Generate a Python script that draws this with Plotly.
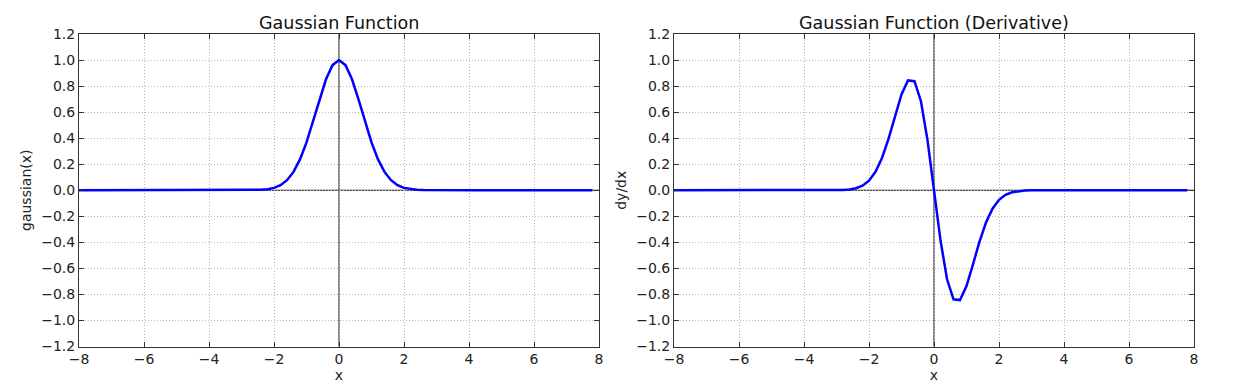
import plotly.graph_objects as go

# x samples (step 0.2 from -8.0 to 7.8)
x_vals = [
    -8.0, -7.8, -7.6, -7.4, -7.2, -7.0, -6.8, -6.6, -6.4, -6.2,
    -6.0, -5.8, -5.6, -5.4, -5.2, -5.0, -4.8, -4.6, -4.4, -4.2,
    -4.0, -3.8, -3.6, -3.4, -3.2, -3.0, -2.8, -2.6, -2.4, -2.2,
    -2.0, -1.8, -1.6, -1.4, -1.2, -1.0, -0.8, -0.6, -0.4, -0.2,
    0.0, 0.2, 0.4, 0.6, 0.8, 1.0, 1.2, 1.4, 1.6, 1.8,
    2.0, 2.2, 2.4, 2.6, 2.8, 3.0, 3.2, 3.4, 3.6, 3.8,
    4.0, 4.2, 4.4, 4.6, 4.8, 5.0, 5.2, 5.4, 5.6, 5.8,
    6.0, 6.2, 6.4, 6.6, 6.8, 7.0, 7.2, 7.4, 7.6, 7.8,
]

gaussian_vals = [
    0.0, 0.0, 0.0, 0.0, 0.0, 0.0, 0.0, 0.0, 0.0, 0.0,
    0.0, 0.0, 0.0, 0.0, 0.0, 0.0, 0.0, 0.0, 0.0, 0.0,
    0.0, 0.0, 0.0, 0.0, 0.0, 0.0001, 0.0004, 0.0012, 0.0032, 0.0079,
    0.0183, 0.0392, 0.0773, 0.1409, 0.2369, 0.3679, 0.5273, 0.6977, 0.8521, 0.9608,
    1.0, 0.9608, 0.8521, 0.6977, 0.5273, 0.3679, 0.2369, 0.1409, 0.0773, 0.0392,
    0.0183, 0.0079, 0.0032, 0.0012, 0.0004, 0.0001, 0.0, 0.0, 0.0, 0.0,
    0.0, 0.0, 0.0, 0.0, 0.0, 0.0, 0.0, 0.0, 0.0, 0.0,
    0.0, 0.0, 0.0, 0.0, 0.0, 0.0, 0.0, 0.0, 0.0, 0.0,
]

derivative_vals = [
    0.0, 0.0, 0.0, 0.0, 0.0, 0.0, 0.0, 0.0, 0.0, 0.0,
    0.0, 0.0, 0.0, 0.0, 0.0, 0.0, 0.0, 0.0, 0.0, 0.0,
    0.0, 0.0, 0.0, 0.0, 0.0, 0.0007, 0.0022, 0.0060, 0.0151, 0.0349,
    0.0733, 0.1412, 0.2475, 0.3946, 0.5686, 0.7358, 0.8436, 0.8372, 0.6817, 0.3843,
    0.0, -0.3843, -0.6817, -0.8372, -0.8436, -0.7358, -0.5686, -0.3946, -0.2475, -0.1412,
    -0.0733, -0.0349, -0.0151, -0.0060, -0.0022, -0.0007, 0.0, 0.0, 0.0, 0.0,
    0.0, 0.0, 0.0, 0.0, 0.0, 0.0, 0.0, 0.0, 0.0, 0.0,
    0.0, 0.0, 0.0, 0.0, 0.0, 0.0, 0.0, 0.0, 0.0, 0.0,
]

titles = ["Gaussian Function", "Gaussian Function (Derivative)"]
y_labels = ["gaussian(x)", "dy/dx"]
x_ticks = [-8, -6, -4, -2, 0, 2, 4, 6, 8]
y_ticks = [-1.2, -1.0, -0.8, -0.6, -0.4, -0.2, 0.0, 0.2, 0.4, 0.6, 0.8, 1.0, 1.2]

W, H = 1241, 390
OFF = 8  # page body margin
FONT = "DejaVu Sans"
GRID = "#b8b8b8"

fig = go.Figure()
fig.add_trace(go.Scatter(x=x_vals, y=gaussian_vals, mode="lines",
                         line=dict(color="#0000ff", width=2.5),
                         xaxis="x", yaxis="y", showlegend=False))
fig.add_trace(go.Scatter(x=x_vals, y=derivative_vals, mode="lines",
                         line=dict(color="#0000ff", width=2.5),
                         xaxis="x2", yaxis="y2", showlegend=False))

ydom = [1 - (346.5 - OFF) / H, 1 - (34 - OFF) / H]
xdoms = [[(79 - OFF) / W, (599 - OFF) / W], [(674 - OFF) / W, (1194 - OFF) / W]]

def xax(dom, anchor):
    return dict(domain=dom, anchor=anchor, range=[-8, 8], tickvals=x_ticks,
                automargin=False,
                ticks="inside", ticklen=5, tickcolor="#333", mirror="ticks",
                showline=True, linecolor="#333", linewidth=1,
                showgrid=True, gridcolor=GRID, griddash="1px,2px", gridwidth=1,
                zeroline=False,
                tickfont=dict(family=FONT, size=14, color="#222"),
                title=dict(text="x", font=dict(family=FONT, size=14, color="#222"), standoff=2))

def yax(anchor, label):
    return dict(domain=ydom, anchor=anchor, range=[-1.2, 1.2], tickvals=y_ticks,
                tickformat=".1f", automargin=False,
                ticks="inside", ticklen=5, tickcolor="#333", mirror="ticks",
                showline=True, linecolor="#333", linewidth=1,
                showgrid=True, gridcolor=GRID, griddash="1px,2px", gridwidth=1,
                zeroline=False,
                tickfont=dict(family=FONT, size=14, color="#222"),
                title=dict(text=label, font=dict(family=FONT, size=14, color="#222"), standoff=6))

layout = dict(
    width=W, height=H, margin=dict(l=0, r=0, t=0, b=0),
    paper_bgcolor="white", plot_bgcolor="white",
    xaxis=xax(xdoms[0], "y"), yaxis=yax("x", y_labels[0]),
    xaxis2=xax(xdoms[1], "y2"), yaxis2=yax("x2", y_labels[1]),
)
fig.update_layout(**layout)

# zero reference lines
for xr, yr in [("x", "y"), ("x2", "y2")]:
    fig.add_shape(type="line", xref=xr, yref=yr, x0=-8, x1=8, y0=0, y1=0,
                  line=dict(color="#111", width=1), layer="below")
    fig.add_shape(type="line", xref=xr, yref=yr, x0=0, x1=0, y0=-1.2, y1=1.2,
                  line=dict(color="#111", width=1), layer="below")

for dom, t in zip(xdoms, titles):
    fig.add_annotation(text=t, x=(dom[0] + dom[1]) / 2, y=ydom[1], xref="paper", yref="paper",
                       xanchor="center", yanchor="bottom", yshift=-1, showarrow=False,
                       font=dict(family=FONT, size=17.5, color="#111"))

fig.write_html("out.html")
